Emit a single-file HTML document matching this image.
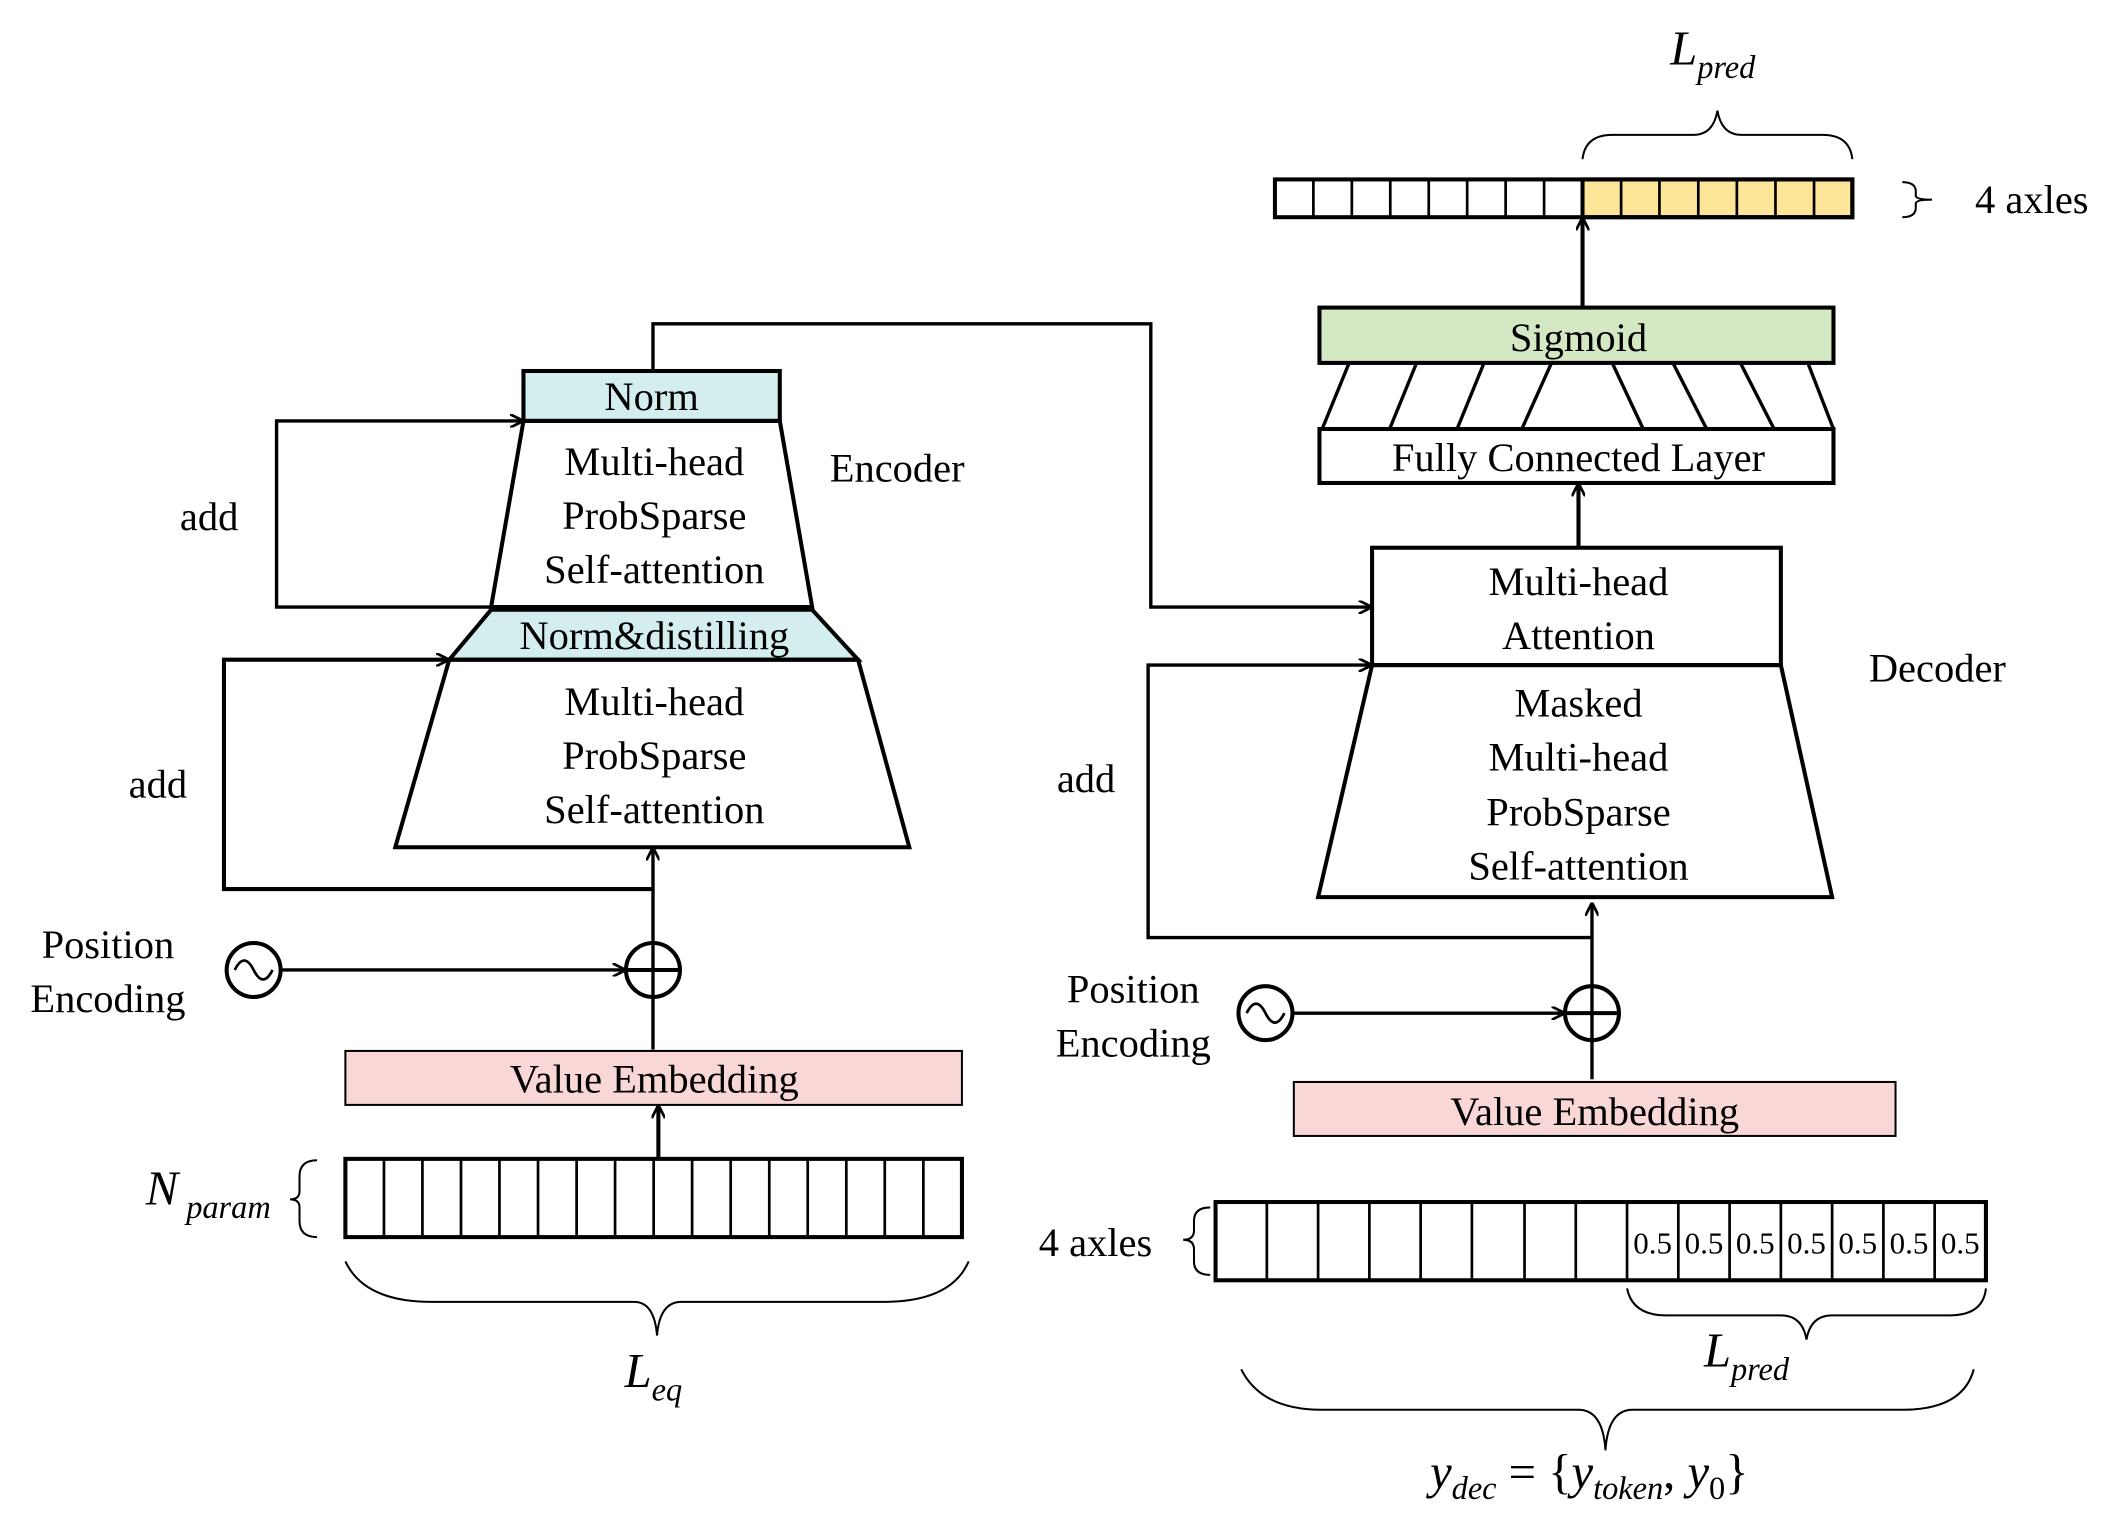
<!DOCTYPE html>
<html><head><style>html,body{margin:0;padding:0;background:#fff}svg{display:block}</style></head><body>
<svg width="2106" height="1525" viewBox="0 0 1561 1130.4" preserveAspectRatio="none" xmlns="http://www.w3.org/2000/svg" font-family="Liberation Serif, serif" font-size="30">
<defs><marker id="a" markerWidth="10" markerHeight="10" refX="9" refY="5" orient="auto" markerUnits="userSpaceOnUse" viewBox="0 0 10 10"><path d="M0,0 L10,5 L0,10" fill="none" stroke="#000" stroke-width="2"/></marker></defs>
<g stroke="#000" stroke-width="3" fill="none">
<!-- top output row -->
<rect x="1173" y="133" width="200" height="28" fill="#fde59a"/>
<rect x="945" y="133" width="428" height="28"/>
<path d="M973.5,133v28M1002,133v28M1030.5,133v28M1059,133v28M1087.5,133v28M1116,133v28M1144.5,133v28M1173,133v28M1201.6,133v28M1230,133v28M1258.8,133v28M1287.4,133v28M1316,133v28M1344.6,133v28" stroke-width="2"/>
<path d="M1173,118 Q1175,100 1195,100 L1255,100 Q1270,100 1273,82 Q1276,100 1291,100 L1351,100 Q1371,100 1373,118" stroke-width="1.5"/>
<path d="M1410,135 Q1420,135 1420,142 L1420,145 Q1420,148 1432,148 Q1420,148 1420,151 L1420,154 Q1420,161 1410,161" stroke-width="1.5"/>
<line x1="1173" y1="228" x2="1173" y2="162" marker-end="url(#a)"/>
<rect x="978" y="228" width="381" height="41" fill="#d5e8c4"/>
<path d="M1000,269L980,318M1050,269L1030,318M1100,269L1080,318M1150,269L1128,318M1195,269L1218,318M1240,269L1265,318M1290,269L1315,318M1340,269L1359,318" stroke-width="2.5"/>
<rect x="978" y="318" width="381" height="40"/>
<line x1="1170" y1="405" x2="1170" y2="359" marker-end="url(#a)"/>
<rect x="1017" y="406" width="303" height="87"/>
<path d="M1017,493 L1320,493 L1358,665 L977,665 Z"/>
<path d="M484,275 V240 H853 V450 H1016" marker-end="url(#a)" stroke-width="2.5"/>
<path d="M1180,695 H851 V493 H1016" marker-end="url(#a)" stroke-width="2.5"/>
<line x1="1180" y1="800" x2="1180" y2="670" marker-end="url(#a)" stroke-width="2.5"/>
<circle cx="1180" cy="751" r="20"/><path d="M1160,751h40"/>
<circle cx="938" cy="751" r="20"/><path d="M924,751 q7,-14 14,0 q7,14 14,0" stroke-width="2"/>
<line x1="958" y1="751" x2="1159" y2="751" marker-end="url(#a)" stroke-width="2.5"/>
<rect x="959" y="802" width="446" height="40" fill="#f8d7d6" stroke-width="1.5"/>
<rect x="901" y="891" width="571" height="58"/>
<path d="M939,891v58M977,891v58M1015,891v58M1053,891v58M1091,891v58M1130,891v58M1168,891v58M1206,891v58M1244,891v58M1282,891v58M1320,891v58M1358,891v58M1396,891v58M1434,891v58" stroke-width="2"/>
<path d="M897,895 Q885,895 885,905 L885,912 Q885,919 877,919 Q885,919 885,926 L885,935 Q885,945 897,945" stroke-width="1.5"/>
<path d="M1206,955 Q1210,975 1235,975 L1320,975 Q1336,975 1339,993 Q1342,975 1358,975 L1445,975 Q1470,975 1472,955" stroke-width="1.5"/>
<path d="M920,1015 Q935,1045 980,1045 L1170,1045 Q1188,1045 1190,1075 Q1192,1045 1210,1045 L1410,1045 Q1455,1045 1463,1015" stroke-width="1.5"/>
<!-- encoder -->
<rect x="388" y="275" width="190" height="37" fill="#d4eef0"/>
<path d="M388,312 L578,312 L602,450 L364,450 Z"/>
<path d="M364,450 H205 V312 H387" marker-end="url(#a)" stroke-width="2.5"/>
<path d="M364,452 L602,452 L636,489 L333,489 Z" fill="#d4eef0"/>
<path d="M333,489 L636,489 L674,628 L293,628 Z"/>
<path d="M484,659 H166 V489 H332" marker-end="url(#a)"/>
<line x1="484" y1="778" x2="484" y2="629" marker-end="url(#a)" stroke-width="2.5"/>
<circle cx="484" cy="719" r="20"/><path d="M464,719h40"/>
<circle cx="188" cy="719" r="20"/><path d="M174,719 q7,-14 14,0 q7,14 14,0" stroke-width="2"/>
<line x1="208" y1="719" x2="463" y2="719" marker-end="url(#a)" stroke-width="2.5"/>
<rect x="256" y="779" width="457" height="40" fill="#f8d7d6" stroke-width="1.5"/>
<line x1="488" y1="858" x2="488" y2="820" marker-end="url(#a)"/>
<rect x="256" y="859" width="457" height="58"/>
<path d="M284.6,859v58M313.1,859v58M341.7,859v58M370.2,859v58M398.8,859v58M427.4,859v58M455.9,859v58M484.5,859v58M513,859v58M541.6,859v58M570.2,859v58M598.7,859v58M627.3,859v58M655.8,859v58M684.4,859v58" stroke-width="2"/>
<path d="M235,860 Q222,860 222,872 L222,883 Q222,889 215,889 Q222,889 222,895 L222,905 Q222,917 235,917" stroke-width="1.5"/>
<path d="M256,935 Q270,965 320,965 L470,965 Q485,965 487,990 Q489,965 505,965 L655,965 Q705,965 718,935" stroke-width="1.5"/>
</g>
<g text-anchor="middle" fill="#000">
<text x="1170" y="260">Sigmoid</text>
<text x="1170" y="349">Fully Connected Layer</text>
<text x="1170" y="441">Multi-head</text><text x="1170" y="481">Attention</text>
<text x="1170" y="531">Masked</text><text x="1170" y="571">Multi-head</text><text x="1170" y="612">ProbSparse</text><text x="1170" y="652">Self-attention</text>
<text x="1436" y="505">Decoder</text>
<text x="805" y="587">add</text>
<text x="840" y="743">Position</text><text x="840" y="783">Encoding</text>
<text x="1182" y="834">Value Embedding</text>
<text x="812" y="931">4 axles</text>
<text x="1506" y="158">4 axles</text>
<text x="483" y="304">Norm</text>
<text x="485" y="352">Multi-head</text><text x="485" y="392">ProbSparse</text><text x="485" y="432">Self-attention</text>
<text x="665" y="357">Encoder</text>
<text x="155" y="393">add</text>
<text x="485" y="481">Norm&amp;distilling</text>
<text x="485" y="530">Multi-head</text><text x="485" y="570">ProbSparse</text><text x="485" y="610">Self-attention</text>
<text x="117" y="591">add</text>
<text x="80" y="710">Position</text><text x="80" y="750">Encoding</text>
<text x="485" y="810">Value Embedding</text>
</g>
<g font-size="23" text-anchor="middle"><text x="1225" y="929">0.5</text><text x="1263" y="929">0.5</text><text x="1301" y="929">0.5</text><text x="1339" y="929">0.5</text><text x="1377" y="929">0.5</text><text x="1415" y="929">0.5</text><text x="1453" y="929">0.5</text></g>
<g font-style="italic">
<text x="1238" y="48" font-size="36">L<tspan font-size="24" dy="10">pred</tspan></text>
<text x="1263" y="1013" font-size="36">L<tspan font-size="24" dy="10">pred</tspan></text>
<text x="463" y="1028" font-size="36">L<tspan font-size="24" dy="10">eq</tspan></text>
<text x="108" y="893" font-size="36">N<tspan font-size="24" dy="10" dx="6">param</tspan></text>
<text x="1060" y="1103" font-size="36">y<tspan font-size="24" dy="8">dec</tspan><tspan dy="-8" font-style="normal"> = {</tspan>y<tspan font-size="24" dy="8">token</tspan><tspan dy="-8" font-style="normal">, </tspan>y<tspan font-size="24" dy="8" font-style="normal">0</tspan><tspan dy="-8" font-style="normal">}</tspan></text>
</g>
</svg>
</body></html>
